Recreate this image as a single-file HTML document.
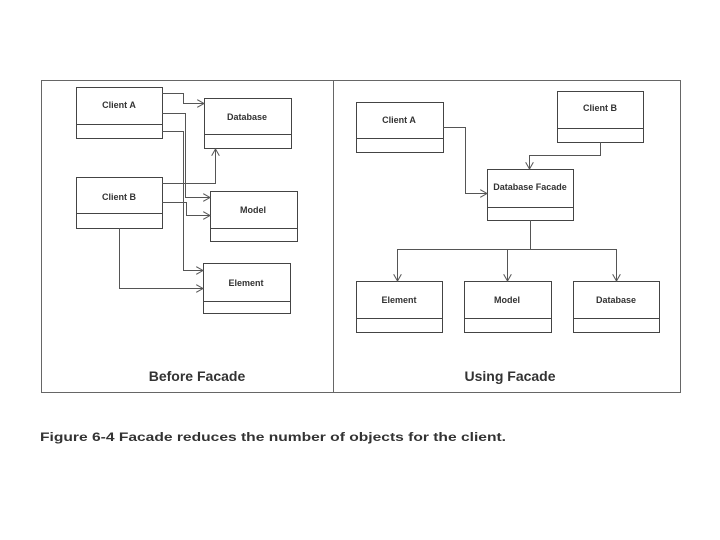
<!DOCTYPE html>
<html><head><meta charset="utf-8"><style>
html,body{margin:0;padding:0;background:#fff;}
svg{display:block;}
text{font-family:"Liberation Sans",sans-serif;fill:#333;}
</style></head><body>
<svg width="720" height="540" viewBox="0 0 720 540">
<defs>
<marker id="a" markerWidth="8" markerHeight="8" refX="7" refY="4" orient="auto" markerUnits="userSpaceOnUse">
<path d="M0,0 L7,4 L0,8" fill="none" stroke="#555" stroke-width="1"/>
</marker>
</defs>
<g fill="none" stroke="#666" stroke-width="1">
<rect x="41.5" y="80.5" width="639" height="312"/>
<line x1="333.5" y1="80" x2="333.5" y2="392"/>
</g>
<g fill="#fff" stroke="#444" stroke-width="1">
<rect x="76.5" y="87.5" width="86" height="51"/><line x1="76" y1="124.5" x2="162" y2="124.5"/>
<rect x="204.5" y="98.5" width="87" height="50"/><line x1="204" y1="134.5" x2="291" y2="134.5"/>
<rect x="76.5" y="177.5" width="86" height="51"/><line x1="76" y1="213.5" x2="162" y2="213.5"/>
<rect x="210.5" y="191.5" width="87" height="50"/><line x1="210" y1="228.5" x2="297" y2="228.5"/>
<rect x="203.5" y="263.5" width="87" height="50"/><line x1="203" y1="301.5" x2="290" y2="301.5"/>
<rect x="356.5" y="102.5" width="87" height="50"/><line x1="356" y1="138.5" x2="443" y2="138.5"/>
<rect x="557.5" y="91.5" width="86" height="51"/><line x1="557" y1="128.5" x2="643" y2="128.5"/>
<rect x="487.5" y="169.5" width="86" height="51"/><line x1="487" y1="207.5" x2="573" y2="207.5"/>
<rect x="356.5" y="281.5" width="86" height="51"/><line x1="356" y1="318.5" x2="442" y2="318.5"/>
<rect x="464.5" y="281.5" width="87" height="51"/><line x1="464" y1="318.5" x2="551" y2="318.5"/>
<rect x="573.5" y="281.5" width="86" height="51"/><line x1="573" y1="318.5" x2="659" y2="318.5"/>
</g>
<g fill="none" stroke="#555" stroke-width="1" marker-end="url(#a)">
<polyline points="162,93.5 183.5,93.5 183.5,103.5 204,103.5"/>
<polyline points="162,113.5 185.5,113.5 185.5,197.5 210,197.5"/>
<polyline points="162,131.5 183.5,131.5 183.5,270.5 203,270.5"/>
<polyline points="162,183.5 215.5,183.5 215.5,149"/>
<polyline points="162,202.5 186.5,202.5 186.5,215.5 210,215.5"/>
<polyline points="119.5,228 119.5,288.5 203,288.5"/>
<polyline points="443,127.5 465.5,127.5 465.5,193.5 487,193.5"/>
<polyline points="600.5,142 600.5,155.5 529.5,155.5 529.5,169"/>
<polyline points="397.5,249.5 397.5,281"/>
<polyline points="507.5,249.5 507.5,281"/>
<polyline points="616.5,249.5 616.5,281"/>
</g>
<g fill="none" stroke="#555" stroke-width="1">
<polyline points="530.5,220 530.5,249.5"/>
<line x1="397" y1="249.5" x2="617" y2="249.5"/>
</g>
<g font-size="9" font-weight="bold" text-anchor="middle">
<text x="119" y="108">Client A</text>
<text x="247" y="120">Database</text>
<text x="119" y="200">Client B</text>
<text x="253" y="213">Model</text>
<text x="246" y="286">Element</text>
<text x="399" y="123">Client A</text>
<text x="600" y="111">Client B</text>
<text x="530" y="190">Database Facade</text>
<text x="399" y="303">Element</text>
<text x="507" y="303">Model</text>
<text x="616" y="303">Database</text>
</g>
<g font-size="14" font-weight="bold" text-anchor="middle">
<text x="197" y="381">Before Facade</text>
<text x="510" y="381">Using Facade</text>
</g>
<text x="40" y="441" font-size="12" font-weight="bold" textLength="466" lengthAdjust="spacingAndGlyphs">Figure 6-4 Facade reduces the number of objects for the client.</text>
</svg>
</body></html>
